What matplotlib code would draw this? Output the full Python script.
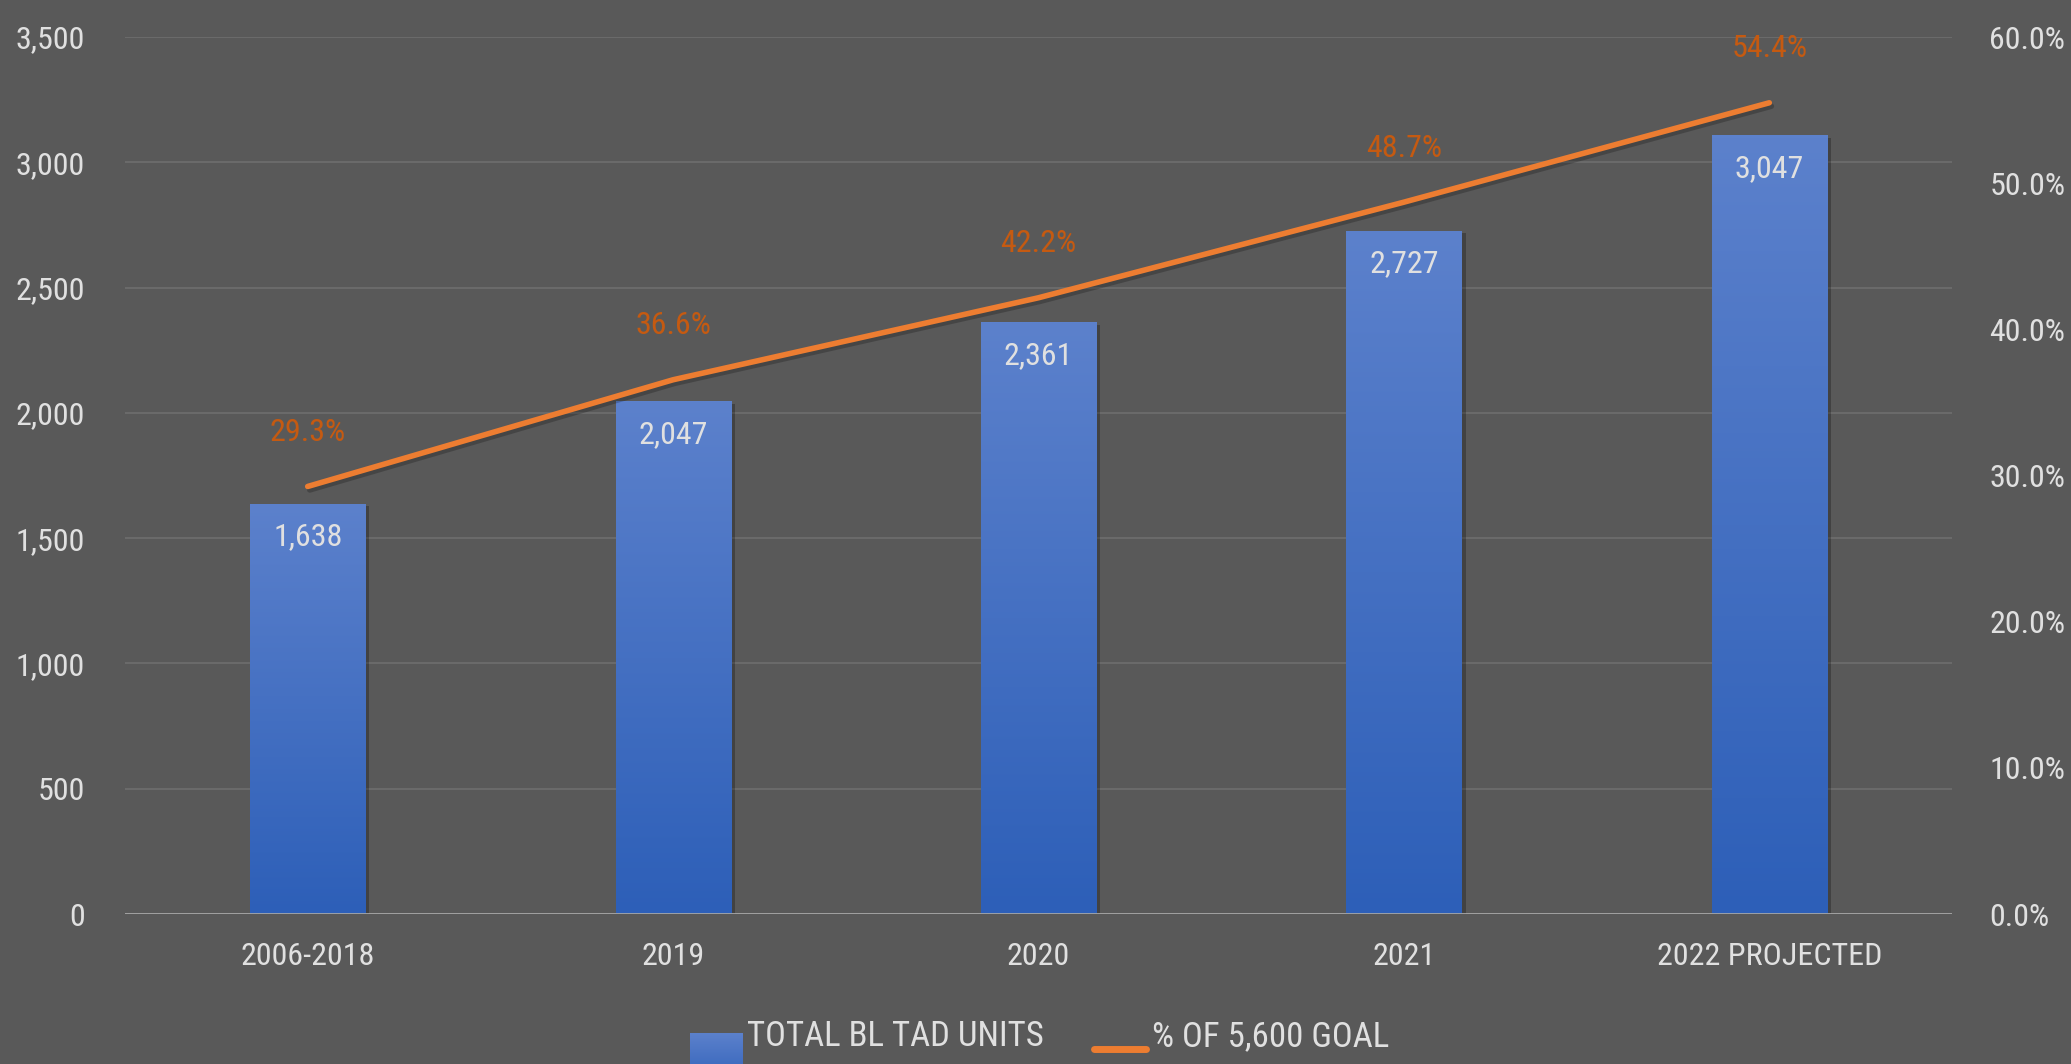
import os
import numpy as np
import matplotlib
matplotlib.use("Agg")
import matplotlib.pyplot as plt
from matplotlib import patheffects as pe
from matplotlib.colors import LinearSegmentedColormap
from matplotlib.lines import Line2D
from matplotlib import font_manager as fm

# ---- data ----
categories = ["2006-2018", "2019", "2020", "2021", "2022 PROJECTED"]
units = [1638, 2047, 2361, 2727, 3108]
unit_labels = ["1,638", "2,047", "2,361", "2,727", "3,047"]
pct_goal = [29.25, 36.55, 42.16, 48.7, 55.5]
pct_labels = ["29.3%", "36.6%", "42.2%", "48.7%", "54.4%"]
legend_labels = ["TOTAL BL TAD UNITS", "% OF 5,600 GOAL"]

# ---- find a narrow font ----
def find_font():
    files = fm.findSystemFonts()
    prefs = ["liberationsansnarrow-regular", "robotocondensed-regular", "dejavusanscondensed.ttf",
             "opensans_condensed-regular", "opensanscondensed", "notosans-condensed.",
             "notosans-condensed", "inter", "narrow", "condensed"]
    low = [(f, os.path.basename(f).lower().replace(" ", "")) for f in files]
    for p in prefs:
        for f, b in low:
            if p in b and "bold" not in b and "italic" not in b and "oblique" not in b and "light" not in b:
                return f
    return None

path = find_font()
if path:
    FP = fm.FontProperties(fname=path)
else:
    FP = fm.FontProperties(family="DejaVu Sans")

BG = "#595959"
TXT = "#E0E0E0"
ORANGE = "#ED7D31"
ORANGE_TXT = "#C55A11"
grad_cmap = LinearSegmentedColormap.from_list("g", ["#2D5FB8", "#5C81CC"])
FS = 23

def fp(size):
    p = FP.copy()
    p.set_size(size)
    return p

W, H = 2071, 1064
fig = plt.figure(figsize=(W / 100, H / 100), dpi=100, facecolor=BG)
ax = fig.add_axes([125 / W, 150 / H, 1827 / W, 877 / H])
ax.set_facecolor(BG)

x = np.arange(len(categories))
bw = 0.315
bars = ax.bar(x, units, width=bw, color="#4472C4", zorder=2,
              path_effects=[pe.SimplePatchShadow(offset=(3, -2), shadow_rgbFace="black", alpha=0.25),
                            pe.Normal()])
grad = np.linspace(0, 1, 256).reshape(-1, 1)
for b in bars:
    im = ax.imshow(grad, extent=[b.get_x(), b.get_x() + b.get_width(), 0, b.get_height()],
                   origin="lower", aspect="auto", cmap=grad_cmap, zorder=2.1)
    im.set_clip_path(b)

ax.set_xlim(-0.5, len(categories) - 0.5)
ax.set_ylim(0, 3500)
ax.set_yticks(np.arange(0, 3501, 500))
ax.set_yticklabels([f"{v:,.0f}" for v in np.arange(0, 3501, 500)])
ax.set_xticks(x)
ax.set_xticklabels(categories)
ax.grid(axis="y", color="#6A6A6A", lw=1.5, zorder=0)
ax.set_axisbelow(True)
ax.axhline(0, color="#A6A6A6", lw=2, zorder=3)
for s in ax.spines.values():
    s.set_visible(False)
ax.tick_params(axis="both", length=0, colors=TXT)
ax.tick_params(axis="y", pad=29)
ax.tick_params(axis="x", pad=20)
for lbl in ax.get_xticklabels() + ax.get_yticklabels():
    lbl.set_fontproperties(fp(FS))

for xi, v, lab in zip(x, units, unit_labels):
    ax.annotate(lab, (xi, v), xytext=(0, -24), textcoords="offset points",
                ha="center", va="center", color=TXT, fontproperties=fp(FS), zorder=4)

ax2 = ax.twinx()
ax2.set_ylim(0, 60)
ax2.set_yticks(np.arange(0, 61, 10))
ax2.set_yticklabels([f"{v:.1f}%" for v in np.arange(0, 61, 10)])
for s in ax2.spines.values():
    s.set_visible(False)
ax2.tick_params(axis="y", length=0, colors=TXT, pad=27)
for lbl in ax2.get_yticklabels():
    lbl.set_fontproperties(fp(FS))
ax2.plot(x, pct_goal, color=ORANGE, lw=4, solid_capstyle="round", solid_joinstyle="round",
         path_effects=[pe.SimpleLineShadow(offset=(1.5, -2.5), shadow_color="black", alpha=0.22),
                       pe.Normal()])
for xi, v, lab in zip(x, pct_goal, pct_labels):
    ax2.annotate(lab, (xi, v), xytext=(0, 39), textcoords="offset points",
                 ha="center", va="center", color=ORANGE_TXT, fontproperties=fp(FS))

# ---- legend ----
lax = fig.add_axes([690 / W, (H - 1086) / H, 53 / W, 53 / H])
lax.imshow(grad, origin="lower", aspect="auto", cmap=grad_cmap, extent=[0, 1, 0, 1])
lax.set_axis_off()
fig.text(747 / W, (H - 1037) / H, legend_labels[0], ha="left", va="center", color=TXT,
         fontproperties=fp(25))
fig.add_artist(Line2D([1094 / W, 1146 / W], [(H - 1049) / H] * 2, color=ORANGE, lw=5,
                      solid_capstyle="round", transform=fig.transFigure))
fig.text(1152 / W, (H - 1037) / H, legend_labels[1], ha="left", va="center", color=TXT,
         fontproperties=fp(25))

fig.savefig("out.png", dpi=100, facecolor=BG)
